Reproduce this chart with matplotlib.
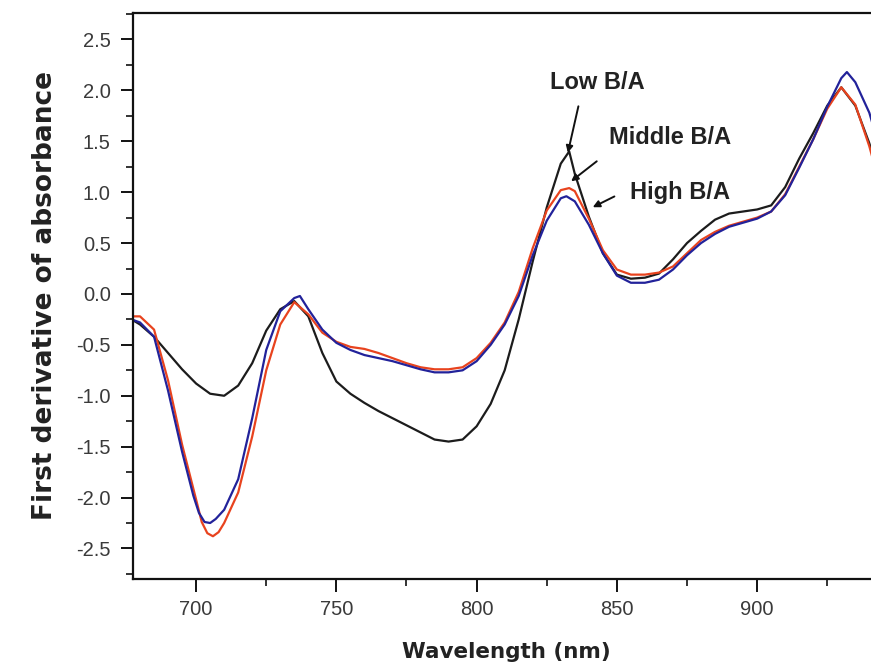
import matplotlib
matplotlib.use("Agg")
import matplotlib.pyplot as plt
from matplotlib.ticker import MultipleLocator, FormatStrFormatter

plt.rcParams["font.family"] = ["Liberation Sans", "DejaVu Sans"]

# first-derivative spectra, one array pair per B/A level
low_nm = [677, 680, 685, 690, 695, 700, 705, 710, 715, 720, 725, 730, 735, 740,
          745, 750, 755, 760, 765, 770, 775, 780, 785, 790, 795, 800, 805, 810,
          815, 820, 825, 830, 833, 835, 840, 845, 850, 855, 860, 865, 870, 875,
          880, 885, 890, 895, 900, 905, 910, 915, 920, 925, 930, 935, 940, 944]
low_val = [-0.25, -0.30, -0.42, -0.58, -0.74, -0.88, -0.98, -1.00, -0.90, -0.68,
           -0.36, -0.15, -0.07, -0.22, -0.58, -0.86, -0.98, -1.07, -1.15, -1.22,
           -1.29, -1.36, -1.43, -1.45, -1.43, -1.30, -1.08, -0.75, -0.25, 0.32,
           0.85, 1.28, 1.40, 1.18, 0.76, 0.40, 0.19, 0.15, 0.16, 0.20, 0.34, 0.50,
           0.62, 0.73, 0.79, 0.81, 0.83, 0.87, 1.05, 1.33, 1.58, 1.85, 2.03, 1.85,
           1.48, 1.10]

mid_nm = [677, 680, 685, 690, 695, 700, 702, 704, 706, 708, 710, 715, 720, 725,
          730, 735, 740, 745, 750, 755, 760, 765, 770, 775, 780, 785, 790, 795,
          800, 805, 810, 815, 820, 825, 830, 833, 835, 840, 845, 850, 855, 860,
          865, 870, 875, 880, 885, 890, 895, 900, 905, 910, 915, 920, 925, 930,
          935, 940, 944]
mid_val = [-0.22, -0.22, -0.35, -0.85, -1.48, -2.02, -2.24, -2.35, -2.38, -2.34,
           -2.25, -1.95, -1.40, -0.75, -0.30, -0.08, -0.20, -0.38, -0.47, -0.52,
           -0.54, -0.58, -0.63, -0.68, -0.72, -0.74, -0.74, -0.72, -0.63, -0.48,
           -0.28, 0.02, 0.45, 0.82, 1.02, 1.04, 1.01, 0.74, 0.43, 0.24, 0.19, 0.19,
           0.21, 0.27, 0.40, 0.53, 0.61, 0.67, 0.71, 0.75, 0.81, 0.98, 1.25, 1.52,
           1.82, 2.03, 1.86, 1.45, 1.05]

high_nm = [677, 680, 685, 690, 695, 699, 701, 703, 705, 707, 710, 715, 720, 725,
           730, 735, 737, 740, 745, 750, 755, 760, 765, 770, 775, 780, 785, 790,
           795, 800, 805, 810, 815, 820, 825, 830, 832, 835, 840, 845, 850, 855,
           860, 865, 870, 875, 880, 885, 890, 895, 900, 905, 910, 915, 920, 925,
           930, 932, 935, 940, 944]
high_val = [-0.25, -0.28, -0.42, -0.95, -1.55, -1.98, -2.15, -2.24, -2.25, -2.21,
            -2.12, -1.82, -1.22, -0.55, -0.17, -0.04, -0.02, -0.15, -0.35, -0.48,
            -0.55, -0.60, -0.63, -0.66, -0.70, -0.74, -0.77, -0.77, -0.75, -0.66,
            -0.50, -0.30, -0.02, 0.38, 0.72, 0.94, 0.96, 0.91, 0.68, 0.40, 0.18,
            0.11, 0.11, 0.14, 0.24, 0.38, 0.50, 0.59, 0.66, 0.70, 0.74, 0.81, 0.97,
            1.24, 1.52, 1.84, 2.12, 2.18, 2.08, 1.78, 1.40]

series = [
    (low_nm, low_val, "#1c1c1c"),
    (mid_nm, mid_val, "#e8431e"),
    (high_nm, high_val, "#22229a"),
]

fig = plt.figure(figsize=(8.71, 6.65), dpi=100)
ax = fig.add_axes([133 / 871, 86 / 665, 747 / 871, 566 / 665])

for nm, val, color in series:
    ax.plot(nm, val, color=color, linewidth=1.6, solid_joinstyle="round")

ax.set_xlim(677.5, 943.8)
ax.set_ylim(-2.8, 2.76)
ax.xaxis.set_major_locator(MultipleLocator(50))
ax.xaxis.set_minor_locator(MultipleLocator(25))
ax.yaxis.set_major_locator(MultipleLocator(0.5))
ax.yaxis.set_minor_locator(MultipleLocator(0.25))
ax.yaxis.set_major_formatter(FormatStrFormatter("%.1f"))

for side in ("left", "bottom", "top"):
    ax.spines[side].set_linewidth(1.6)
    ax.spines[side].set_color("#111111")
ax.spines["right"].set_visible(False)

ax.tick_params(which="major", direction="out", length=9, width=1.4,
               labelsize=14.5, labelcolor="#3a3a3a", color="#111111")
ax.tick_params(which="minor", direction="out", length=5, width=1.2, color="#111111")
ax.tick_params(axis="x", pad=6)
ax.tick_params(axis="y", pad=7)

ax.set_xlabel("Wavelength (nm)", fontsize=15.5, fontweight="bold", labelpad=17,
              color="#222222", family="DejaVu Sans")
ax.set_ylabel("First derivative of absorbance", fontsize=19, fontweight="bold",
              labelpad=13, color="#222222", family="DejaVu Sans")

label_kw = dict(fontsize=17, fontweight="bold", color="#222222", va="center")
ax.text(826.2, 2.08, "Low B/A", **label_kw)
ax.text(847.2, 1.54, "Middle B/A", **label_kw)
ax.text(854.7, 1.00, "High B/A", **label_kw)

arrow_kw = dict(arrowstyle="-|>", color="#111111", lw=1.4, mutation_scale=10)
ax.annotate("", xy=(832.3, 1.36), xytext=(836.5, 1.87), arrowprops=arrow_kw)
ax.annotate("", xy=(832.9, 1.09), xytext=(843.6, 1.32), arrowprops=arrow_kw)
ax.annotate("", xy=(840.5, 0.84), xytext=(850.0, 0.97), arrowprops=arrow_kw)

fig.savefig("out.png", dpi=100)
